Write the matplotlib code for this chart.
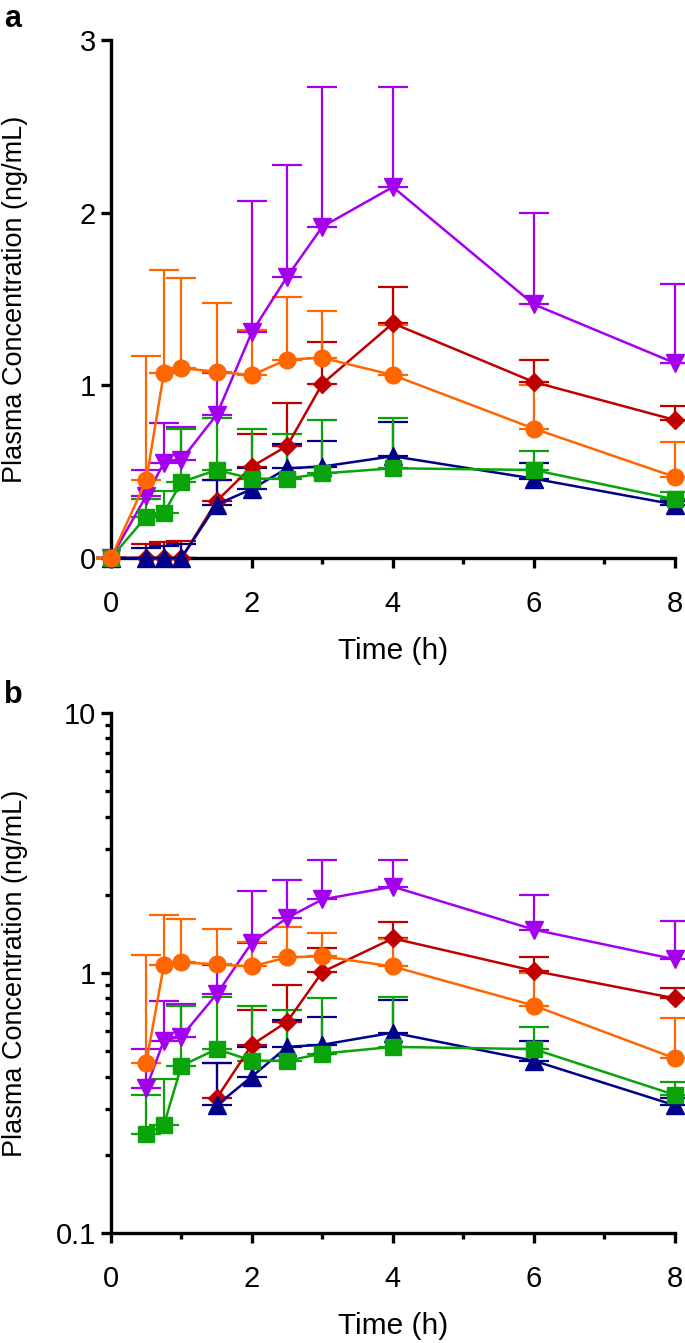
import numpy as np
import matplotlib
matplotlib.use("Agg")
import matplotlib.pyplot as plt
from matplotlib.ticker import FixedLocator, NullFormatter

plt.rcParams['font.family'] = ['Liberation Sans', 'DejaVu Sans']

# time points (h)
time_h = [0, 0.5, 0.75, 1, 1.5, 2, 2.5, 3, 4, 6, 8]

# mean and upper error limit for each group
purple_mean = [0, 0.36, 0.55, 0.57, 0.83, 1.31, 1.63, 1.92, 2.15, 1.47, 1.13]
purple_top = [0, 0.51, 0.78, 0.76, 1.07, 2.07, 2.28, 2.73, 2.73, 2.00, 1.59]

red_mean = [0, 0, 0, 0, 0.33, 0.53, 0.65, 1.01, 1.36, 1.02, 0.80]
red_top = [0, 0.08, 0.09, 0.10, 0.45, 0.72, 0.90, 1.25, 1.57, 1.15, 0.88]

navy_mean = [0, 0, 0, 0, 0.31, 0.40, 0.52, 0.53, 0.59, 0.46, 0.31]
navy_top = [0, 0.06, 0.07, 0.08, 0.45, 0.52, 0.66, 0.68, 0.79, 0.55, 0.33]

green_mean = [0, 0.24, 0.26, 0.44, 0.51, 0.46, 0.46, 0.49, 0.52, 0.51, 0.34]
green_top = [0, 0.34, 0.39, 0.75, 0.81, 0.75, 0.72, 0.80, 0.81, 0.62, 0.38]

orange_mean = [0, 0.45, 1.07, 1.10, 1.08, 1.06, 1.15, 1.16, 1.06, 0.75, 0.47]
orange_top = [0, 1.17, 1.67, 1.62, 1.48, 1.32, 1.51, 1.43, 1.35, 1.00, 0.67]

series = [
    (purple_mean, purple_top, '#A400F0', 'v', 13.5),
    (red_mean, red_top, '#C00000', 'D', 9.5),
    (navy_mean, navy_top, '#00008B', '^', 13.5),
    (green_mean, green_top, '#0AA30A', 's', 11),
    (orange_mean, orange_top, '#FF6600', 'o', 12),
]

TICK_FS = 21
LAB_FS = 21.5


def draw(ax, log=False):
    t = np.array(time_h)
    for k, (m, top, col, mk, ms) in enumerate(series):
        m = np.array(m, dtype=float)
        top = np.array(top, dtype=float)
        keep = m > 0 if log else np.ones(len(m), bool)
        x, y, up = t[keep], m[keep], top[keep] - m[keep]
        ax.errorbar(x, y, yerr=[np.zeros_like(up), up], fmt='none',
                    ecolor=col, elinewidth=1.6, capsize=11, capthick=1.6,
                    zorder=2, clip_on=False)
        ax.plot(x, y, color=col, lw=1.8, marker=mk, ms=ms, mec=col,
                zorder=3 + k, clip_on=False)

    for s in ['top', 'right']:
        ax.spines[s].set_visible(False)
    for s in ['left', 'bottom']:
        ax.spines[s].set_linewidth(2.4)
    ax.set_xlim(0, 8)
    ax.set_xticks([0, 2, 4, 6, 8])
    ax.xaxis.set_minor_locator(FixedLocator([1, 3, 5, 7]))
    ax.tick_params(which='major', length=7, width=2.4, labelsize=TICK_FS)
    ax.tick_params(axis='x', which='major', pad=16)
    ax.tick_params(axis='y', which='major', pad=4)
    ax.tick_params(which='minor', length=4, width=2.4)
    ax.set_xlabel('Time (h)', fontsize=LAB_FS, labelpad=14)
    ax.set_ylabel('Plasma Concentration (ng/mL)', fontsize=19.5)
    ax.yaxis.set_label_coords(-0.148, 0.5)


fig = plt.figure(figsize=(6.85, 13.43), dpi=100)

ax1 = fig.add_axes([0.162, 0.5845, 0.823, 0.3855])
draw(ax1)
ax1.set_ylim(0, 3)
ax1.set_yticks([0, 1, 2, 3])
ax1.yaxis.set_minor_locator(FixedLocator([]))

ax2 = fig.add_axes([0.162, 0.0819, 0.823, 0.3871])
draw(ax2, log=True)
ax2.set_yscale('log')
ax2.set_ylim(0.1, 10)
ax2.set_yticks([0.1, 1, 10])
ax2.set_yticklabels(['0.1', '1', '10'])
ax2.yaxis.set_minor_locator(FixedLocator(
    [v * d for d in (0.1, 1) for v in range(2, 10)]))
ax2.yaxis.set_minor_formatter(NullFormatter())

fig.text(0.006, 0.997, 'a', fontsize=22, fontweight='bold', va='top')
fig.text(0.006, 0.494, 'b', fontsize=22, fontweight='bold', va='top')

fig.savefig('out.png', dpi=100)
